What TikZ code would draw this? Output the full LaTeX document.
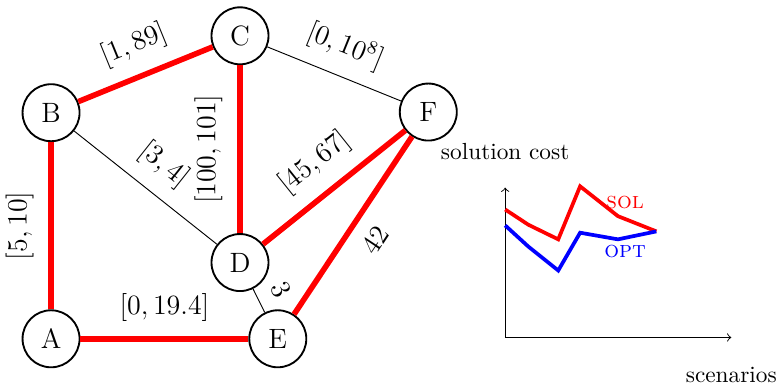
\documentclass[tikz,border=0pt]{standalone}
\usetikzlibrary{calc}
\tikzset{vtx/.style={draw, thick, circle, minimum size=8.6mm, inner sep=0pt, font=\large},
  hot/.style={red, line width=2.4pt},
  cold/.style={black, thin},
  wt/.style={midway, sloped, above=3pt, text=black, font=\large},
  wtb/.style={midway, sloped, below=3pt, text=black, font=\large}}

\begin{document}
\begin{tikzpicture}
  \useasboundingbox (-0.77,-0.71) rectangle (11.01,5.11);
  % the graph
  \node[vtx] (A) at (0,0) {A};
  \node[vtx] (B) at (0,3.41) {B};
  \node[vtx] (C) at (2.85,4.57) {C};
  \node[vtx] (D) at (2.85,1.15) {D};
  \node[vtx] (E) at (3.42,0) {E};
  \node[vtx] (F) at (5.69,3.42) {F};
  \draw[hot] (A) -- (B) node[wt]{$[5,10]$};
  \draw[hot] (B) -- (C) node[wt]{$[1,89]$};
  \draw[hot] (D) -- (C) node[wt]{$[100,101]$};
  \draw[hot] (D) -- (F) node[wt]{$[45,67]$};
  \draw[hot] (E) -- (F) node[wtb]{$42$};
  \draw[hot] (A) -- (E) node[wt]{$[0,19.4]$};
  \draw[cold] (B) -- (D) node[wt]{$[3,4]$};
  \draw[cold] (C) -- (F) node[wt]{$[0,10^8]$};
  \draw[cold] (D) -- (E) node[wt]{$3$};
  % cost per scenario
  \begin{scope}[shift={(6.85,0.02)}]
    \coordinate (o) at (0,0);
    \coordinate (ytop) at (0,2.26);
    \coordinate (xend) at (3.41,0);
    \draw[->] (o) -- (ytop);
    \draw[->] (o) -- (xend);
    \node (ylab) at ($(ytop)+(0,0.55)$) {solution cost};
    \node (xlab) at ($(xend)+(0,-0.57)$) {scenarios};
    \draw[red, line width=1.6pt] (0,1.93) -- (0.35,1.70) -- (0.8,1.48) -- (1.13,2.28) -- (1.7,1.83) -- (2.28,1.60);
    \draw[blue, line width=1.6pt] (0,1.69) -- (0.35,1.37) -- (0.8,1.01) -- (1.13,1.58) -- (1.7,1.48) -- (2.28,1.60);
    \node[red] (sol) at (1.81,2.04) {\textsc{sol}};
    \node[blue] (opt) at (1.81,1.30) {\textsc{opt}};
  \end{scope}
\end{tikzpicture}
\end{document}
